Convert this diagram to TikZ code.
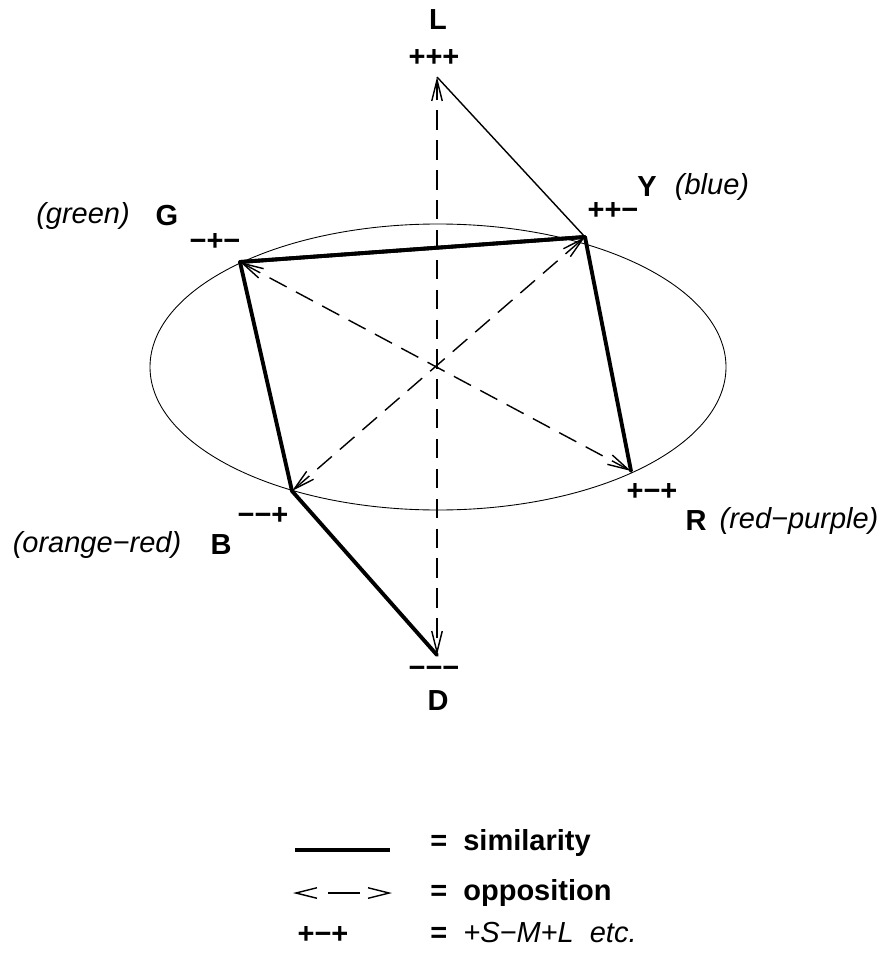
\documentclass[tikz,border=0pt]{standalone}
\usepackage{fontspec}
\setmainfont{Liberation Sans}
\usetikzlibrary{arrows.meta,positioning}

\begin{document}
\begin{tikzpicture}[x=0.02cm,y=-0.02cm,
    font=\fontsize{16.5}{19}\selectfont,
    lbl/.style={font=\fontsize{16.5}{19}\selectfont\bfseries, inner sep=0pt},
    hue/.style={font=\fontsize{16.5}{19}\selectfont\itshape, inner sep=0pt},
    simline/.style={line width=2.2pt, line join=round, line cap=round},
    oppline/.style={line width=0.8pt, dash pattern=on 11pt off 6pt,
      {Straight Barb[length=12pt,width=6pt]}-{Straight Barb[length=12pt,width=6pt]}}]
    \useasboundingbox (0,0) rectangle (887,959);

    % colour circle
    \draw[line width=0.5pt] (438,367) ellipse [x radius=288, y radius=143];

    % corners of the solid
    \coordinate (L) at (437,77);
    \coordinate (Y) at (585,237);
    \coordinate (G) at (240,262);
    \coordinate (R) at (631,471);
    \coordinate (B) at (292,491);
    \coordinate (D) at (437,655);

    % similarity lines
    \draw[line width=0.8pt] (L) -- (Y);
    \draw[simline] (G) -- (Y) -- (R);
    \draw[simline] (Y) -- (G) -- (B) -- (D);

    % opposition lines
    \draw[oppline] (L) -- (D);
    \draw[oppline] (G) -- (R);
    \draw[oppline] (B) -- (Y);

    % labels
    \node[lbl] (Ln) at (438,20) {L};
    \node[lbl] (Ls) at (434,58) {+++};
    \node[lbl] (Yn) at (647,187) {Y};
    \node[hue] (Yc) at (712,187) {(blue)};
    \node[lbl] (Ys) at (613,211) {++−};
    \node[lbl] (Gn) at (167,216) {G};
    \node[hue] (Gc) at (83,216) {(green)};
    \node[lbl] (Gs) at (215,242) {−+−};
    \node[lbl] (Rs) at (652,492) {+−+};
    \node[lbl] (Rn) at (696,521) {R};
    \node[hue] (Rc) at (799,521) {(red−purple)};
    \node[lbl] (Bs) at (263,516) {−−+};
    \node[lbl] (Bn) at (221,545) {B};
    \node[hue] (Bc) at (97,545) {(orange−red)};
    \node[lbl] (Ds) at (434,672) {−−−};
    \node[lbl] (Dn) at (438,701) {D};

    % legend
    \coordinate (s1) at (295,850);
    \coordinate (s2) at (390,850);
    \draw[line width=2.2pt] (s1) -- (s2);
    \node[lbl, anchor=west] (simtxt) at (430,843) {=\ \ similarity};
    \coordinate (o1) at (293,893);
    \coordinate (o2) at (392,893);
    \draw[oppline, dash pattern=on 0pt off 18.1pt on 18.1pt off 40pt] (o1) -- (o2);
    \node[lbl, anchor=west] (opptxt) at (430,893) {=\ \ opposition};
    \node[lbl] (extxt) at (323,935) {+−+};
    \node[anchor=west, inner sep=0pt] (exdef) at (430,933) {\textbf{=}\ \ \textit{+S−M+L\ \ etc.}};
\end{tikzpicture}
\end{document}
